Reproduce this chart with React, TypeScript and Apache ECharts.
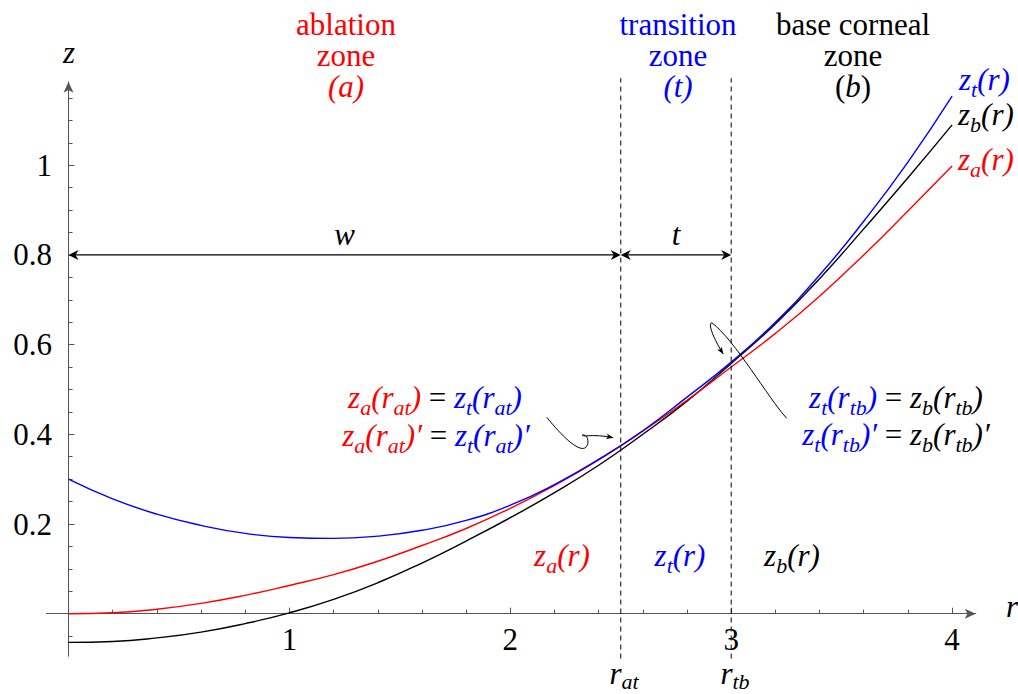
import React, { useEffect, useRef } from "react";
import * as echarts from "echarts";

// ---- data -------------------------------------------------------------
const R_SAMPLES = [0, 0.2, 0.4, 0.6, 0.8, 1.0, 1.2, 1.4, 1.6, 1.8, 2.0, 2.2, 2.4, 2.6, 2.8, 3.0, 3.2, 3.4, 3.6, 3.8, 4.0];
const Z_ABLATION = [0, 0.002, 0.01, 0.023, 0.041, 0.063, 0.087, 0.117, 0.152, 0.19, 0.235, 0.286, 0.343, 0.407, 0.476, 0.55, 0.625, 0.708, 0.8, 0.898, 0.998];
const Z_TRANSITION = [0.3, 0.256, 0.222, 0.197, 0.179, 0.17, 0.168, 0.173, 0.186, 0.208, 0.242, 0.288, 0.344, 0.408, 0.483, 0.561, 0.65, 0.755, 0.875, 1.007, 1.154];
const Z_BASE = [-0.064, -0.062, -0.054, -0.041, -0.022, 0.002, 0.032, 0.069, 0.113, 0.162, 0.214, 0.27, 0.331, 0.4, 0.474, 0.558, 0.646, 0.747, 0.858, 0.972, 1.09];

const ZONE_BOUNDARIES = [2.5, 3.0]; // r_at, r_tb
const BOUNDARY_Z_RANGE = [-0.1, 1.194];
const JOINTS = [
  [2.5, 0.376],
  [3.0, 0.561],
];
const DIMENSION_LEVEL = 0.8;
const DIMENSIONS = [
  { from: 0, to: 2.5, label: "w" },
  { from: 2.5, to: 3.0, label: "t" },
];
const X_TICK_LABELS = ["1", "2", "3", "4"];
const Y_TICK_LABELS = ["0.2", "0.4", "0.6", "0.8", "1"];

// ---- look -------------------------------------------------------------
const RED = "#ff0000";
const BLUE = "#0000ff";
const BLACK = "#000000";
const AXIS = "#555555";
const SERIF = "Liberation Serif";
const FS = 31;
const FS_SUB = 22;
const LH = 28;

const W = 1018;
const H = 694;
const X0 = 68.5;
const PX_R = 220.9;
const Y0 = 613.7;
const PX_Z = 448.5;
const px = (r: number) => X0 + r * PX_R;
const py = (z: number) => Y0 - z * PX_Z;
const gridFor = (x0: number, x1: number, y0: number, y1: number) => ({
  left: px(x0),
  right: W - px(x1),
  top: py(y1),
  bottom: H - py(y0),
  containLabel: false,
  outerBoundsMode: "none",
});

// pointer strokes, as pixel offsets from the joint they point at
const POINTER_PATHS = [
  {
    joint: 0,
    start: [-74.0, -27.8],
    segs: [
      [[-55.8, -5.1], [-35.8, 12.9], [-32.8, -2.1]],
      [[-31.8, -13.1], [-43.8, -10.1], [-35.8, -9.1]],
      [[-25.8, -10.1], [-15.8, -9.1], [-7.5, -7.4]],
    ],
  },
  {
    joint: 1,
    start: [55.5, 56.2],
    segs: [
      [[36.8, 35.9], [3.8, -22.1], [-19.5, -39.4]],
      [[-24.2, -38.1], [-15.2, -19.1], [-7.9, -8.1]],
    ],
  },
];

// ---- rich text helpers --------------------------------------------------
function makeRich(subShift: number) {
  const rich: Record<string, any> = {};
  for (const [k, c] of [["R", RED], ["B", BLUE], ["K", BLACK]] as const) {
    rich["m" + k] = { fill: c, fontSize: FS, fontFamily: SERIF, fontStyle: "italic", lineHeight: LH };
    rich["s" + k] = { fill: c, fontSize: FS_SUB, fontFamily: SERIF, fontStyle: "italic", lineHeight: LH, padding: [subShift * 2, 0, 0, 0] };
    rich["u" + k] = { fill: c, fontSize: FS, fontFamily: SERIF, fontStyle: "normal", lineHeight: LH };
  }
  return rich;
}
const RICH = makeRich(10);
const RICH_LOW = makeRich(8);

const tok = (style: string, text: string) => `{${style}|${text}}`;
// z_sub(r_argSub)[′]
const zOf = (k: string, sub: string, arg: string, argSub: string, prime = false) =>
  tok("m" + k, "z") +
  tok("s" + k, sub) +
  tok("m" + k, "(" + arg) +
  (argSub ? tok("s" + k, argSub) : "") +
  tok("m" + k, ")" + (prime ? "\u2032" : ""));
const EQ = tok("uK", " = ");

function textEl(x: number, y: number, text: string, align = "center", vAlign = "middle", lineHeight = LH, rich = RICH) {
  return {
    type: "text",
    x,
    y,
    silent: true,
    style: {
      text,
      rich,
      align,
      textAlign: align,
      verticalAlign: vAlign,
      textVerticalAlign: vAlign,
      fontSize: FS,
      fontFamily: SERIF,
      lineHeight,
      fill: BLACK,
    },
  };
}

const HEAD_LH = 31;
const HEAD_RICH: Record<string, any> = {};
for (const [k, c] of [["R", RED], ["B", BLUE], ["K", BLACK]] as const) {
  HEAD_RICH["u" + k] = { fill: c, fontSize: FS, fontFamily: SERIF, fontStyle: "normal", lineHeight: HEAD_LH };
  HEAD_RICH["m" + k] = { fill: c, fontSize: FS, fontFamily: SERIF, fontStyle: "italic", lineHeight: HEAD_LH };
}

function buildGraphics() {
  const els: any[] = [];
  // zone headings, three lines each
  const headings = [
    { x: 346, text: [tok("uR", "ablation"), tok("uR", "zone"), tok("mR", "(a)")].join("\n") },
    { x: 678, text: [tok("uB", "transition"), tok("uB", "zone"), tok("mB", "(t)")].join("\n") },
    { x: 853, text: [tok("uK", "base corneal"), tok("uK", "zone"), tok("uK", "(") + tok("mK", "b") + tok("uK", ")")].join("\n") },
  ];
  headings.forEach((h) => els.push(textEl(h.x, 9, h.text, "center", "top", HEAD_LH, HEAD_RICH)));

  // matching conditions
  els.push(textEl(435, 397.5, zOf("R", "a", "r", "at") + EQ + zOf("B", "t", "r", "at")));
  els.push(textEl(436, 435.5, zOf("R", "a", "r", "at", true) + EQ + zOf("B", "t", "r", "at", true)));
  els.push(textEl(896, 397.8, zOf("B", "t", "r", "tb") + EQ + zOf("K", "b", "r", "tb")));
  els.push(textEl(896, 434.5, zOf("B", "t", "r", "tb", true) + EQ + zOf("K", "b", "r", "tb", true)));

  // zone functions near the axis
  els.push(textEl(562, 555.5, zOf("R", "a", "r", "")));
  els.push(textEl(680, 555.5, zOf("B", "t", "r", "")));
  els.push(textEl(792, 555.5, zOf("K", "b", "r", "")));

  // curve end labels
  els.push(textEl(959, 79.5, zOf("B", "t", "r", ""), "left"));
  els.push(textEl(958, 114.5, zOf("K", "b", "r", ""), "left"));
  els.push(textEl(958, 159.5, zOf("R", "a", "r", ""), "left"));

  // boundary radii
  els.push(textEl(624, 673.5, tok("mK", "r") + tok("sK", "at"), "center", "middle", LH, RICH_LOW));
  els.push(textEl(735, 673.5, tok("mK", "r") + tok("sK", "tb"), "center", "middle", LH, RICH_LOW));

  // axis names
  els.push(textEl(69, 52.8, tok("mK", "z")));
  els.push(textEl(1012, 606, tok("mK", "r")));
  return els;
}

function arrowHead(tip: number[], dir: number[], len: number, width: number, notch: number) {
  const d = Math.hypot(dir[0], dir[1]) || 1;
  const ux = dir[0] / d;
  const uy = dir[1] / d;
  const nx = -uy;
  const ny = ux;
  const bx = tip[0] - ux * len;
  const by = tip[1] - uy * len;
  return {
    type: "polygon",
    shape: {
      points: [
        [tip[0], tip[1]],
        [bx + (nx * width) / 2, by + (ny * width) / 2],
        [tip[0] - ux * len * (1 - notch), tip[1] - uy * len * (1 - notch)],
        [bx - (nx * width) / 2, by - (ny * width) / 2],
      ],
    },
    style: { fill: BLACK },
  };
}

function renderAnnotations(_params: any, api: any) {
  const c = (r: number, z: number) => api.coord([r, z]);
  const children: any[] = [];

  ZONE_BOUNDARIES.forEach((rb) => {
    const a = c(rb, BOUNDARY_Z_RANGE[0]);
    const b = c(rb, BOUNDARY_Z_RANGE[1]);
    children.push({
      type: "line",
      shape: { x1: a[0], y1: a[1], x2: b[0], y2: b[1] },
      style: { stroke: BLACK, lineWidth: 1, lineDash: [5, 4] },
    });
  });

  DIMENSIONS.forEach((dm) => {
    const a = c(dm.from, DIMENSION_LEVEL);
    const b = c(dm.to, DIMENSION_LEVEL);
    children.push({
      type: "line",
      shape: { x1: a[0] + 4, y1: a[1], x2: b[0] - 4, y2: b[1] },
      style: { stroke: BLACK, lineWidth: 1.2 },
    });
    children.push(arrowHead(a, [-1, 0], 10, 10, 0.3));
    children.push(arrowHead(b, [1, 0], 10, 10, 0.3));
    const m = c((dm.from + dm.to) / 2, DIMENSION_LEVEL);
    children.push({
      type: "text",
      x: m[0],
      y: m[1] - 20,
      style: {
        text: dm.label,
        fontSize: FS,
        fontFamily: SERIF,
        fontStyle: "italic",
        lineHeight: LH,
        fill: BLACK,
        align: "center",
        textAlign: "center",
        verticalAlign: "middle",
        textVerticalAlign: "middle",
      },
    });
  });

  POINTER_PATHS.forEach((p) => {
    const j = c(JOINTS[p.joint][0], JOINTS[p.joint][1]);
    const at = (o: number[]) => [j[0] + o[0], j[1] + o[1]];
    let cur = at(p.start);
    p.segs.forEach((s) => {
      const c1 = at(s[0]);
      const c2 = at(s[1]);
      const e = at(s[2]);
      children.push({
        type: "bezierCurve",
        shape: { x1: cur[0], y1: cur[1], cpx1: c1[0], cpy1: c1[1], cpx2: c2[0], cpy2: c2[1], x2: e[0], y2: e[1] },
        style: { stroke: BLACK, lineWidth: 1, fill: "none" },
      });
      cur = e;
    });
    const last = p.segs[p.segs.length - 1];
    const c2 = at(last[1]);
    children.push(arrowHead(cur, [cur[0] - c2[0], cur[1] - c2[1]], 7, 5.5, 0.25));
  });

  return { type: "group", children };
}

const curve = (name: string, values: number[], color: string, z: number) => ({
  name,
  type: "line",
  xAxisIndex: 0,
  yAxisIndex: 0,
  data: R_SAMPLES.map((r, i) => [r, values[i]]),
  smooth: true,
  showSymbol: false,
  symbol: "none",
  silent: true,
  z,
  lineStyle: { color, width: 1.4 },
});

const tickStyle = { color: AXIS, width: 1 };
const hidden = (gridIndex: number, min: number, max: number) => ({
  gridIndex,
  type: "value",
  min,
  max,
  show: false,
  axisLine: { onZero: false },
});

export default function App() {
  const ref = useRef<HTMLDivElement>(null);

  useEffect(() => {
    if (!ref.current) return;
    const chart = echarts.init(ref.current, undefined, { renderer: "svg" });
    chart.setOption({
      animation: false,
      backgroundColor: "#ffffff",
      textStyle: { fontFamily: SERIF },
      grid: [
        gridFor(-0.1, 4.107, -0.095, 1.186),
        gridFor(0, 4, 0, 1),
        gridFor(0, 4, -0.05, 1.15),
        gridFor(0, 4, 0.2, 1.0),
      ],
      xAxis: [
        {
          gridIndex: 0,
          type: "value",
          min: -0.1,
          max: 4.107,
          axisLine: { show: true, onZero: true, symbol: ["none", "arrow"], symbolSize: [7.5, 11], lineStyle: tickStyle },
          axisTick: { show: false },
          axisLabel: { show: false },
          splitLine: { show: false },
        },
        {
          gridIndex: 1,
          type: "value",
          min: 0,
          max: 4,
          interval: 1,
          position: "bottom",
          axisLine: { show: false, onZero: false },
          axisTick: { show: true, inside: true, length: 6, lineStyle: tickStyle },
          minorTick: { show: true, splitNumber: 5, length: 4, lineStyle: tickStyle },
          splitLine: { show: false },
          minorSplitLine: { show: false },
          axisLabel: {
            show: true,
            margin: 10,
            fontSize: FS,
            fontFamily: SERIF,
            color: BLACK,
            formatter: (v: number) => (X_TICK_LABELS.includes(String(v)) ? String(v) : ""),
          },
        },
        hidden(2, 0, 4),
        hidden(3, 0, 4),
      ],
      yAxis: [
        {
          gridIndex: 0,
          type: "value",
          min: -0.095,
          max: 1.186,
          axisLine: { show: true, onZero: true, symbol: ["none", "arrow"], symbolSize: [7.5, 11], lineStyle: tickStyle },
          axisTick: { show: false },
          axisLabel: { show: false },
          splitLine: { show: false },
        },
        hidden(1, 0, 1),
        {
          gridIndex: 2,
          type: "value",
          min: -0.05,
          max: 1.15,
          interval: 0.05,
          position: "left",
          axisLine: { show: false, onZero: false },
          axisTick: { show: true, inside: true, length: 4, lineStyle: tickStyle },
          axisLabel: { show: false },
          splitLine: { show: false },
        },
        {
          gridIndex: 3,
          type: "value",
          min: 0.2,
          max: 1.0,
          interval: 0.2,
          position: "left",
          axisLine: { show: false, onZero: false },
          axisTick: { show: true, inside: true, length: 6, lineStyle: tickStyle },
          splitLine: { show: false },
          axisLabel: {
            show: true,
            margin: 16.5,
            fontSize: FS,
            fontFamily: SERIF,
            color: BLACK,
            formatter: (v: number) => {
              const s = String(+v.toFixed(2));
              return Y_TICK_LABELS.includes(s) ? s : "";
            },
          },
        },
      ],
      series: [
        curve("z_b", Z_BASE, BLACK, 2),
        curve("z_a", Z_ABLATION, RED, 3),
        curve("z_t", Z_TRANSITION, BLUE, 4),
        {
          type: "custom",
          xAxisIndex: 0,
          yAxisIndex: 0,
          silent: true,
          clip: false,
          z: 5,
          data: [[0, 0]],
          renderItem: renderAnnotations,
        },
      ],
      graphic: { elements: buildGraphics() },
    });
    return () => chart.dispose();
  }, []);

  return <div ref={ref} style={{ position: "fixed", left: 0, top: 0, width: W, height: H }} />;
}
